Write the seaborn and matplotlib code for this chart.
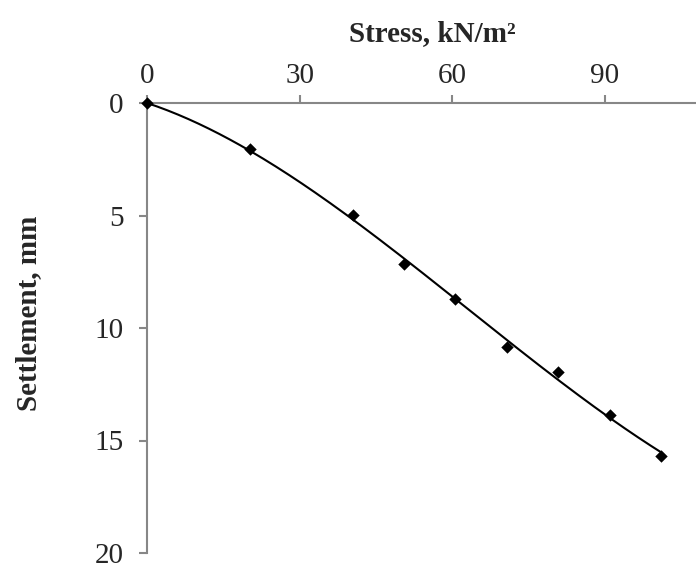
import numpy as np
import pandas as pd
import matplotlib
matplotlib.use("Agg")
import matplotlib.pyplot as plt
import seaborn as sns

# Plate load test readings
stress = [0.0, 20.2, 40.4, 50.5, 60.6, 70.7, 80.8, 90.9, 101.0]          # kN/m²
settlement = [0.0, 2.04, 4.98, 7.16, 8.70, 10.86, 11.94, 13.87, 15.67]   # mm
x_ticks = [0, 30, 60, 90]
y_ticks = [0, 5, 10, 15, 20]

df = pd.DataFrame({"stress": stress, "settlement": settlement})

# Third-order polynomial trend line with the intercept fixed at zero
xs = df["stress"].to_numpy()
ys = df["settlement"].to_numpy()
design = np.column_stack([xs ** 3, xs ** 2, xs])
(a3, a2, a1), *_ = np.linalg.lstsq(design, ys, rcond=None)
trend_x = np.linspace(xs.min(), xs.max(), 200)
trend = pd.DataFrame({"stress": trend_x,
                      "settlement": a3 * trend_x ** 3 + a2 * trend_x ** 2 + a1 * trend_x})

sns.set_style("white")
plt.rcParams["font.family"] = ["Liberation Serif", "DejaVu Serif"]

fig = plt.figure(figsize=(6.96, 5.69), dpi=100)
ax = fig.add_axes([147 / 696, 1 - 553 / 569, 570 / 696, 450 / 569])

sns.lineplot(data=trend, x="stress", y="settlement", color="black",
             linewidth=1.5, ax=ax, sort=False)
sns.scatterplot(data=df, x="stress", y="settlement", marker="D", s=40,
                color="black", edgecolor="black", linewidth=0, ax=ax,
                zorder=3, clip_on=False)

ax.set_xlim(0, 112)
ax.set_ylim(20, 0)
ax.set_xticks(x_ticks)
ax.set_yticks(y_ticks)

axis_grey = "#878787"
for side in ("bottom", "right"):
    ax.spines[side].set_visible(False)
for side in ("top", "left"):
    ax.spines[side].set_color(axis_grey)
    ax.spines[side].set_linewidth(1.5)

ax.xaxis.tick_top()
ax.xaxis.set_label_position("top")
ax.tick_params(axis="x", which="major", top=True, bottom=False, direction="out",
               length=6, width=1.5, color=axis_grey, labelsize=21, pad=4)
ax.tick_params(axis="y", which="major", left=True, direction="out",
               length=6, width=1.5, color=axis_grey, labelsize=21, pad=11)

ax.set_xlabel("Stress, kN/m²", fontsize=21, fontweight="bold", labelpad=16)
ax.set_ylabel("Settlement, mm", fontsize=21, fontweight="bold")
ax.yaxis.set_label_coords(-0.185, 0.533)

fig.savefig("out.png", dpi=100)
